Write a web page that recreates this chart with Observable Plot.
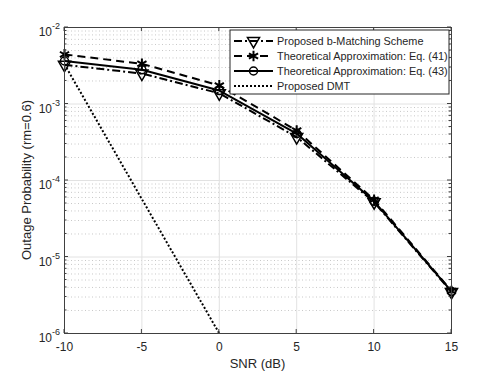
<!DOCTYPE html>
<html>
<head>
<meta charset="utf-8">
<script src="https://cdn.jsdelivr.net/npm/d3@7"></script>
<script src="https://cdn.jsdelivr.net/npm/@observablehq/plot@0.6"></script>
<style>
  body { margin: 0; background: white; }
  #chart { width: 498px; height: 374px; }
</style>
</head>
<body>
<div id="chart"></div>
<script>
// ---- data ----
const snr = [-10, -5, 0, 5, 10, 15];
const proposed = [3.25e-3, 2.5e-3, 1.38e-3, 3.7e-4, 5.2e-5, 3.5e-6];
const eq41 = [4.45e-3, 3.35e-3, 1.75e-3, 4.5e-4, 5.6e-5, 3.6e-6];
const eq43 = [3.65e-3, 2.8e-3, 1.5e-3, 4.1e-4, 5.35e-5, 3.55e-6];
const dmtSnr = [-10, -5, 0];
const dmt = [3.3e-3, 5.7e-5, 1e-6];
const xTicks = [-10, -5, 0, 5, 10, 15];
const yDecades = [-6, -5, -4, -3, -2];
const seriesNames = [
  "Proposed b-Matching Scheme",
  "Theoretical Approximation: Eq. (41)",
  "Theoretical Approximation: Eq. (43)",
  "Proposed DMT"
];
const xLabel = "SNR (dB)";
const yLabel = "Outage Probability (rm=0.6)";

const toRows = (xs, ys) => xs.map((x, i) => ({x, y: ys[i]}));
const rProp = toRows(snr, proposed);
const r41 = toRows(snr, eq41);
const r43 = toRows(snr, eq43);
const rDmt = toRows(dmtSnr, dmt);

const majorY = yDecades.map(e => Math.pow(10, e));
const minorY = [];
for (const e of yDecades.slice(0, -1)) for (let k = 2; k <= 9; k++) minorY.push(k * Math.pow(10, e));

const ink = "#262626";
const font = "'Liberation Sans', Arial, Helvetica, sans-serif";
const lineOpts = {x: "x", y: "y", stroke: "black", strokeWidth: 2, strokeLinecap: "butt", strokeLinejoin: "miter"};

const chart = Plot.plot({
  width: 498, height: 374,
  marginLeft: 64, marginRight: 47, marginTop: 27, marginBottom: 41,
  style: {fontFamily: font, fontSize: "12px", color: ink, background: "white", overflow: "visible"},
  x: {domain: [-10, 15]},
  y: {type: "log", domain: [1e-6, 1e-2]},
  marks: [
    Plot.gridY(minorY, {stroke: "#c8c8c8", strokeOpacity: 1, strokeDasharray: "1,2.5"}),
    Plot.gridY(majorY, {stroke: "#e2e2e2", strokeOpacity: 1}),
    Plot.gridX(xTicks, {stroke: "#e2e2e2", strokeOpacity: 1}),
    Plot.line(rDmt, {...lineOpts, strokeDasharray: "2,2"}),
    Plot.line(r41, {...lineOpts, strokeDasharray: "8,5"}),
    Plot.line(r43, {...lineOpts}),
    Plot.line(rProp, {...lineOpts, strokeDasharray: "8,3,2,3"}),
    Plot.dot(r41, {x: "x", y: "y", symbol: "asterisk", r: 5, stroke: "black", strokeWidth: 2}),
    Plot.dot(r43, {x: "x", y: "y", symbol: "circle", r: 4, stroke: "black", strokeWidth: 1.5, fill: "none"}),
    Plot.dot(rProp, {x: "x", y: "y", symbol: "triangle", rotate: 180, r: 4.5, stroke: "black", strokeWidth: 1.5, fill: "none"}),
    Plot.axisX({ticks: xTicks, tickSize: 0, tickPadding: 9, label: null, fontSize: 12, tickFormat: d => String(d)}),
    Plot.axisY({ticks: majorY, tickSize: 0, tickFormat: () => "", label: null}),
    Plot.frame({stroke: "#404040", strokeWidth: 1})
  ]
});

document.getElementById("chart").appendChild(chart);

const sx = chart.scale("x");
const sy = chart.scale("y");
const svg = d3.select(chart);
const X0 = sx.apply(-10), X1 = sx.apply(15);
const Y0 = sy.apply(1e-6), Y1 = sy.apply(1e-2);

// inward ticks
const tg = svg.append("g").attr("stroke", "#404040").attr("stroke-width", 1);
for (const v of xTicks) {
  const x = sx.apply(v);
  tg.append("line").attr("x1", x).attr("x2", x).attr("y1", Y0).attr("y2", Y0 - 4);
  tg.append("line").attr("x1", x).attr("x2", x).attr("y1", Y1).attr("y2", Y1 + 4);
}
for (const v of majorY) {
  const y = sy.apply(v);
  tg.append("line").attr("x1", X0).attr("x2", X0 + 4).attr("y1", y).attr("y2", y);
  tg.append("line").attr("x1", X1).attr("x2", X1 - 4).attr("y1", y).attr("y2", y);
}
for (const v of minorY) {
  const y = sy.apply(v);
  tg.append("line").attr("x1", X0).attr("x2", X0 + 2.5).attr("y1", y).attr("y2", y);
  tg.append("line").attr("x1", X1).attr("x2", X1 - 2.5).attr("y1", y).attr("y2", y);
}

// y tick labels with superscripts
const yl = svg.append("g").attr("font-family", font).attr("fill", ink);
for (const e of yDecades) {
  const y = sy.apply(Math.pow(10, e));
  const t = yl.append("text").attr("x", X0 - 4).attr("y", y + 9).attr("text-anchor", "end").attr("font-size", 12);
  t.append("tspan").text("10");
  t.append("tspan").attr("dy", -7).attr("font-size", 9).text(String(e));
}

// axis labels
svg.append("text").attr("x", (X0 + X1) / 2).attr("y", 368).attr("text-anchor", "middle")
  .attr("font-family", font).attr("font-size", 13).attr("fill", ink).text(xLabel);
svg.append("text").attr("transform", `translate(31,${(Y0 + Y1) / 2}) rotate(-90)`).attr("text-anchor", "middle")
  .attr("font-family", font).attr("font-size", 13).attr("fill", ink).text(yLabel);

// legend
const lg = svg.append("g").attr("font-family", font);
lg.append("rect").attr("x", 230).attr("y", 30).attr("width", 219).attr("height", 64)
  .attr("fill", "white").attr("stroke", ink).attr("stroke-width", 1);
const dashes = ["8,3,2,3", "8,5", null, "2,2"];
const syms = [
  {type: d3.symbolTriangle, r: 4.5, rot: 180, fill: "none", sw: 1.5},
  {type: d3.symbolAsterisk, r: 5, rot: 0, fill: "none", sw: 2},
  {type: d3.symbolCircle, r: 4, rot: 0, fill: "none", sw: 1.5},
  null
];
seriesNames.forEach((name, i) => {
  const y = 41 + i * 15;
  const ln = lg.append("line").attr("x1", 234).attr("x2", 273).attr("y1", y).attr("y2", y)
    .attr("stroke", "black").attr("stroke-width", 2);
  if (dashes[i]) ln.attr("stroke-dasharray", dashes[i]);
  const s = syms[i];
  if (s) {
    lg.append("path").attr("d", d3.symbol().type(s.type).size(Math.PI * s.r * s.r)())
      .attr("transform", `translate(253.5,${y}) rotate(${s.rot})`)
      .attr("fill", s.fill).attr("stroke", "black").attr("stroke-width", s.sw);
  }
  lg.append("text").attr("x", 277).attr("y", y + 4).attr("text-anchor", "start")
    .attr("font-size", 10.9).attr("fill", ink).text(name);
});
</script>
</body>
</html>
